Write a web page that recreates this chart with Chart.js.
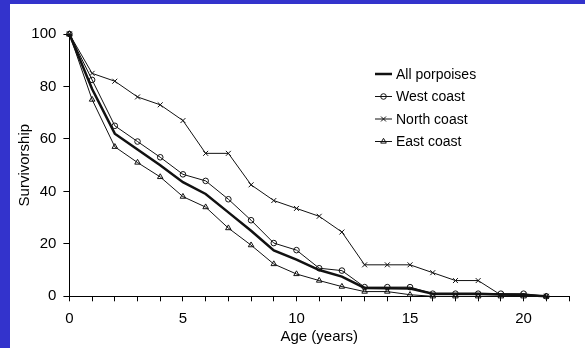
<!DOCTYPE html>
<html>
<head>
<meta charset="utf-8">
<script src="https://cdn.jsdelivr.net/npm/chart.js@4.4.0/dist/chart.umd.min.js"></script>
<style>
  html, body { margin: 0; padding: 0; background: #3333cc; width: 585px; height: 348px; overflow: hidden; }
  #wrap { position: absolute; left: 10px; top: 4px; width: 575px; height: 344px; background: #fff; }
  canvas { display: block; }
</style>
</head>
<body>
<div id="wrap"><canvas id="c" width="575" height="344"></canvas></div>
<script>
const ages = [0,1,2,3,4,5,6,7,8,9,10,11,12,13,14,15,16,17,18,19,20,21];
const allPorpoises = [100,79,62,56,50,43.5,39,32,25,17.5,14,10,7.5,3.2,3.1,3,1,1,1,0.7,0.5,0];
const westCoast   = [100,82.5,65,59,53,46.5,44,37,29,20.3,17.6,10.7,9.8,3.5,3.5,3.5,1,1,1,1,1,0];
const northCoast  = [100,85,82,76,73,67,54.5,54.5,42.5,36.5,33.5,30.5,24.5,12,12,12,9,6,6,0.5,0.5,0];
const eastCoast   = [100,75,57,51,45.5,38,34,26,19.5,12.3,8.5,6,3.7,1.8,1.8,0.6,0,0,0,0,0,0];
const seriesNames = ['All porpoises','West coast','North coast','East coast'];
const yTicks = [0,20,40,60,80,100];
const xLabelTicks = [0,5,10,15,20];

const toPts = arr => ages.map((a,i)=>({x:a,y:arr[i]}));
const FONT = '"Liberation Sans", Arial, sans-serif';

const legendPlugin = {
  id: 'customLegend',
  afterDraw(chart) {
    const ctx = chart.ctx;
    const x1 = 365, x2 = 382, tx = 386;
    const ys = [70, 92.5, 115, 137.5];
    ctx.save();
    chart.data.datasets.forEach((ds, i) => {
      const y = ys[i];
      ctx.strokeStyle = ds.borderColor;
      ctx.lineWidth = ds.borderWidth;
      ctx.beginPath(); ctx.moveTo(x1, y); ctx.lineTo(x2, y); ctx.stroke();
      if (ds.pointStyle && ds.pointRadius > 0) {
        ctx.lineWidth = 1;
        ctx.strokeStyle = ds.borderColor;
        ctx.fillStyle = ds.pointBackgroundColor;
        Chart.helpers.drawPoint(ctx, {pointStyle: ds.pointStyle, radius: ds.pointRadius, borderWidth: 1}, (x1+x2)/2, y);
      }
      ctx.fillStyle = '#000';
      ctx.font = '14px ' + FONT;
      ctx.textBaseline = 'middle';
      ctx.textAlign = 'left';
      ctx.fillText(seriesNames[i], tx, y + 1);
    });
    ctx.restore();
  }
};

const mk = (label, data, style, width, radius) => ({
  label, data: toPts(data), borderColor: '#111', borderWidth: width,
  pointStyle: style, pointRadius: radius, pointBorderWidth: 1,
  pointBorderColor: '#111', pointBackgroundColor: 'rgba(0,0,0,0)',
  pointHoverRadius: radius, fill: false, tension: 0, clip: false
});

new Chart(document.getElementById('c'), {
  type: 'line',
  data: {
    datasets: [
      mk(seriesNames[0], allPorpoises, false, 2.5, 0),
      mk(seriesNames[1], westCoast, 'circle', 1, 2.8),
      mk(seriesNames[2], northCoast, 'crossRot', 1, 3.5),
      mk(seriesNames[3], eastCoast, 'triangle', 1, 3.2)
    ]
  },
  options: {
    responsive: false,
    animation: false,
    devicePixelRatio: 1,
    layout: { padding: { top: 30, right: 16, left: 0, bottom: 0 } },
    plugins: { legend: { display: false }, tooltip: { enabled: false } },
    scales: {
      x: {
        type: 'linear', min: 0, max: 22,
        afterFit: s => { s.height = 51.7; },
        afterBuildTicks: s => { s.ticks = ages.concat([22]).map(v => ({value: v})); },
        ticks: {
          stepSize: 1, autoSkip: false, maxRotation: 0, color: '#000',
          font: { size: 15, family: FONT }, padding: 9,
          callback: v => xLabelTicks.includes(v) ? String(v) : ''
        },
        grid: { display: true, drawOnChartArea: false, drawTicks: true, tickLength: 5, color: '#000', lineWidth: 1 },
        border: { display: true, color: '#000', width: 1 },
        title: { display: true, text: 'Age (years)', color: '#000', font: { size: 15, family: FONT }, padding: { top: 0, bottom: 2 } }
      },
      y: {
        min: 0, max: 100,
        afterFit: s => { s.width = 59.4; },
        afterBuildTicks: s => { s.ticks = yTicks.map(v => ({value: v})); },
        ticks: { stepSize: 20, color: '#000', font: { size: 15, family: FONT }, padding: 7 },
        grid: { display: true, drawOnChartArea: false, drawTicks: true, tickLength: 6, color: '#000', lineWidth: 1 },
        border: { display: true, color: '#000', width: 1 },
        title: { display: true, text: 'Survivorship', color: '#000', font: { size: 15, family: FONT }, padding: { top: 5.5, bottom: 0 } }
      }
    }
  },
  plugins: [legendPlugin]
});
</script>
</body>
</html>
